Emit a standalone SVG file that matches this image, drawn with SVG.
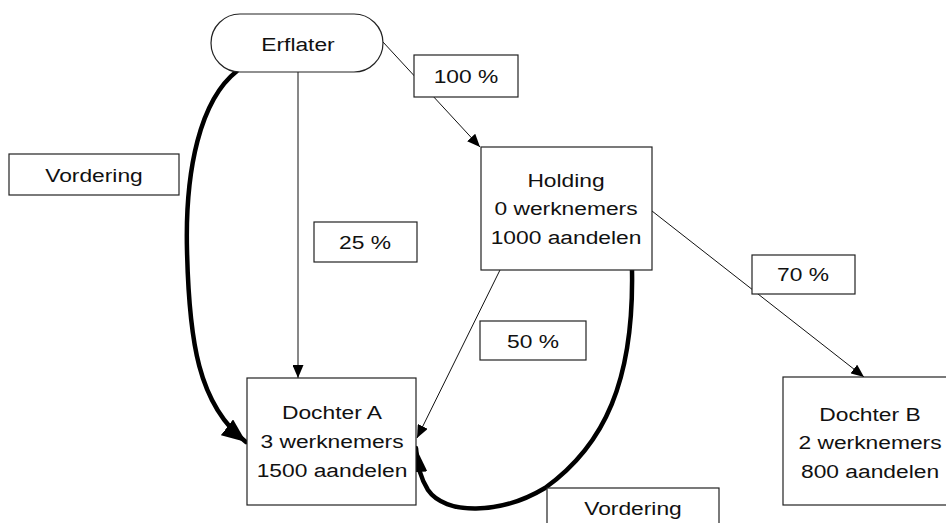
<svg xmlns="http://www.w3.org/2000/svg" width="946" height="523" viewBox="0 0 946 523">
<defs>
<style>
.box{fill:#fff;stroke:#222;stroke-width:1.2}
.t{font-family:"Liberation Sans",Arial,sans-serif;font-size:19px;fill:#111;text-anchor:middle}
.thin{fill:none;stroke:#111;stroke-width:1}
.thick{fill:none;stroke:#000;stroke-width:4.5;stroke-linecap:round}
</style>
<marker id="ah" markerUnits="userSpaceOnUse" markerWidth="13" markerHeight="11" refX="13" refY="5.5" orient="auto">
<path d="M0,0 L13,5.5 L0,11 z" fill="#000"/>
</marker>
<marker id="ahb" markerUnits="userSpaceOnUse" markerWidth="24" markerHeight="20" refX="24" refY="10" orient="auto">
<path d="M0,0 L24,10 L0,20 z" fill="#000"/>
</marker>
</defs>
<rect width="946" height="523" fill="#fff"/>
<g id="connectors">
<path class="thin" d="M298,72 L298,378" marker-end="url(#ah)"/>
<path class="thin" d="M383,42 L480,147" marker-end="url(#ah)"/>
<path class="thin" d="M500,270 L417,438" marker-end="url(#ah)"/>
<path class="thin" d="M652,211 L864,377" marker-end="url(#ah)"/>
<path class="thick" d="M237,71 C200,100 185,170 187,250 C189,340 198,405 246,442" marker-end="url(#ahb)"/>
<path class="thick" d="M632,270 C634,380 605,445 545,488 C500,515 445,515 428,490 C421,479 417,466 416,448" marker-end="url(#ahb)"/>
</g>
<g id="erflater">
<rect class="box" x="211" y="14" width="172" height="58" rx="29" ry="29"/>
<text class="t" transform="translate(298,51) scale(1.2,1)">Erflater</text>
</g>
<g id="label-100">
<rect class="box" x="414" y="55" width="104" height="42"/>
<text class="t" transform="translate(466,83) scale(1.2,1)">100 %</text>
</g>
<g id="label-vordering-left">
<rect class="box" x="9" y="154" width="170" height="41"/>
<text class="t" transform="translate(94,182) scale(1.2,1)">Vordering</text>
</g>
<g id="holding">
<rect class="box" x="481" y="147" width="171" height="123"/>
<text class="t" transform="translate(566,187) scale(1.2,1)">Holding</text>
<text class="t" transform="translate(566,215) scale(1.2,1)">0 werknemers</text>
<text class="t" transform="translate(566,244) scale(1.2,1)">1000 aandelen</text>
</g>
<g id="label-25">
<rect class="box" x="314" y="222" width="103" height="40"/>
<text class="t" transform="translate(365,249) scale(1.2,1)">25 %</text>
</g>
<g id="label-70">
<rect class="box" x="752" y="255" width="103" height="39"/>
<text class="t" transform="translate(803,281) scale(1.2,1)">70 %</text>
</g>
<g id="label-50">
<rect class="box" x="480" y="321" width="106" height="39"/>
<text class="t" transform="translate(533,348) scale(1.2,1)">50 %</text>
</g>
<g id="dochter-a">
<rect class="box" x="247" y="378" width="169" height="127"/>
<text class="t" transform="translate(332,419) scale(1.2,1)">Dochter A</text>
<text class="t" transform="translate(332,448) scale(1.2,1)">3 werknemers</text>
<text class="t" transform="translate(332,477) scale(1.2,1)">1500 aandelen</text>
</g>
<g id="dochter-b">
<rect class="box" x="783" y="377" width="174" height="128"/>
<text class="t" transform="translate(870,421) scale(1.2,1)">Dochter B</text>
<text class="t" transform="translate(870,449) scale(1.2,1)">2 werknemers</text>
<text class="t" transform="translate(870,478) scale(1.2,1)">800 aandelen</text>
</g>
<g id="label-vordering-bottom">
<rect class="box" x="547" y="488" width="172" height="45"/>
<text class="t" transform="translate(633,515) scale(1.2,1)">Vordering</text>
</g>
</svg>
